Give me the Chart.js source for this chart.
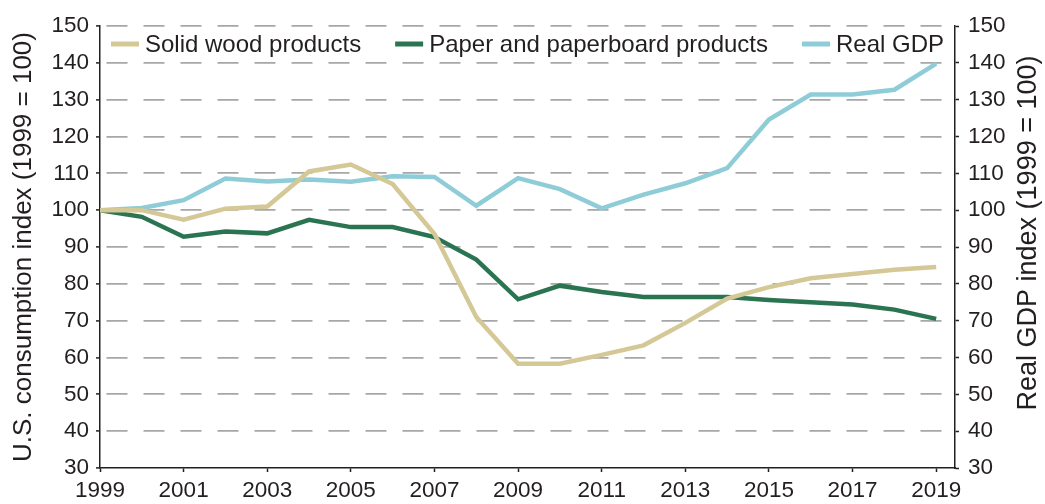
<!DOCTYPE html>
<html>
<head>
<meta charset="utf-8">
<script src="https://cdn.jsdelivr.net/npm/chart.js@4.4.1/dist/chart.umd.min.js"></script>
<style>
  html, body { margin: 0; padding: 0; background: #fff; }
</style>
</head>
<body>
<canvas id="chart" width="1045" height="504"></canvas>
<script>
// values (index, 1999 = 100)
const years = [1999, 2000, 2001, 2002, 2003, 2004, 2005, 2006, 2007, 2008, 2009,
               2010, 2011, 2012, 2013, 2014, 2015, 2016, 2017, 2018, 2019];
const tickYears = [1999, 2001, 2003, 2005, 2007, 2009, 2011, 2013, 2015, 2017, 2019];
const solidWood = [100, 100.0, 97.4, 100.4, 101.0, 110.5, 112.4, 107.1, 93.5, 71.0, 58.3,
                   58.3, 60.7, 63.3, 69.4, 76.0, 79.1, 81.5, 82.7, 83.8, 84.6];
const paper = [100, 98.2, 92.8, 94.2, 93.7, 97.4, 95.4, 95.4, 92.7, 86.6, 75.8,
               79.5, 77.8, 76.4, 76.4, 76.4, 75.6, 75.0, 74.4, 73.0, 70.5];
const realGdp = [100, 100.6, 102.7, 108.6, 107.8, 108.3, 107.7, 109.2, 109.0, 101.2, 108.7,
                 105.7, 100.5, 104.2, 107.3, 111.4, 124.6, 131.4, 131.4, 132.7, 139.8];

const FONT = "'Liberation Sans', Arial, Helvetica, sans-serif";
const INK = '#231f20';
Chart.defaults.font.family = FONT;
Chart.defaults.color = INK;

const toPoints = vals => years.map((yr, i) => ({ x: yr, y: vals[i] }));

// legend inside the plot + right axis title reading upwards
const extras = {
  id: 'extras',
  afterDraw(chart) {
    const ctx = chart.ctx;
    ctx.save();
    ctx.font = '24px ' + FONT;
    ctx.fillStyle = INK;
    ctx.textBaseline = 'alphabetic';
    let x = chart.chartArea.left + 11;
    chart.data.datasets.forEach(ds => {
      ctx.strokeStyle = ds.borderColor;
      ctx.lineWidth = 5;
      ctx.beginPath();
      ctx.moveTo(x, 44);
      ctx.lineTo(x + 28, 44);
      ctx.stroke();
      x += 34;
      ctx.fillText(ds.label, x, 52);
      x += ctx.measureText(ds.label).width + 34;
    });
    ctx.translate(1029, 233);
    ctx.rotate(-Math.PI / 2);
    ctx.font = '27px ' + FONT;
    ctx.textAlign = 'center';
    ctx.textBaseline = 'middle';
    ctx.fillText('Real GDP index (1999 = 100)', 0, 0);
    ctx.restore();
  }
};

const axisBorder = { color: INK, width: 1.5 };

new Chart(document.getElementById('chart'), {
  type: 'line',
  data: {
    datasets: [
      { label: 'Solid wood products', data: toPoints(solidWood), borderColor: '#d4c896', yAxisID: 'y' },
      { label: 'Paper and paperboard products', data: toPoints(paper), borderColor: '#2a7452', yAxisID: 'y' },
      { label: 'Real GDP', data: toPoints(realGdp), borderColor: '#8ecdd8', yAxisID: 'y1' }
    ]
  },
  options: {
    responsive: false,
    animation: false,
    layout: { padding: { top: 26, left: 0, right: 0, bottom: 0 } },
    elements: {
      line: { borderWidth: 4.5, tension: 0, fill: false },
      point: { radius: 0, hoverRadius: 0 }
    },
    plugins: { legend: { display: false }, tooltip: { enabled: false } },
    scales: {
      x: {
        type: 'linear',
        min: 1999,
        max: 2019.45,
        afterBuildTicks: s => { s.ticks = tickYears.map(v => ({ value: v })); },
        afterFit: s => { s.height = 36; },
        ticks: { font: { size: 22.5 }, padding: 5, maxRotation: 0, autoSkip: false, callback: v => String(v) },
        grid: { drawOnChartArea: false, tickLength: 4, tickColor: INK, tickWidth: 1.5 },
        border: axisBorder
      },
      y: {
        position: 'left',
        min: 30,
        max: 150,
        afterFit: s => { s.width = 100; },
        ticks: { stepSize: 10, font: { size: 22.5 }, padding: 7 },
        grid: {
          color: c => (c.tick && c.tick.value === 30 ? 'rgba(0,0,0,0)' : '#a7a7a7'),
          lineWidth: 1.8,
          tickLength: 4,
          tickColor: INK,
          tickWidth: 1.5,
          tickBorderDash: []
        },
        border: { color: INK, width: 1.5, dash: [21, 16], dashOffset: 31 },
        title: {
          display: true,
          text: 'U.S. consumption index (1999 = 100)',
          font: { size: 26 },
          padding: { top: 8, bottom: 0 }
        }
      },
      y1: {
        position: 'right',
        min: 30,
        max: 150,
        afterFit: s => { s.width = 90; },
        ticks: { stepSize: 10, font: { size: 22.5 }, padding: 9 },
        grid: { drawOnChartArea: false, tickLength: 4, tickColor: INK, tickWidth: 1.5 },
        border: axisBorder
      }
    }
  },
  plugins: [extras]
});
</script>
</body>
</html>
